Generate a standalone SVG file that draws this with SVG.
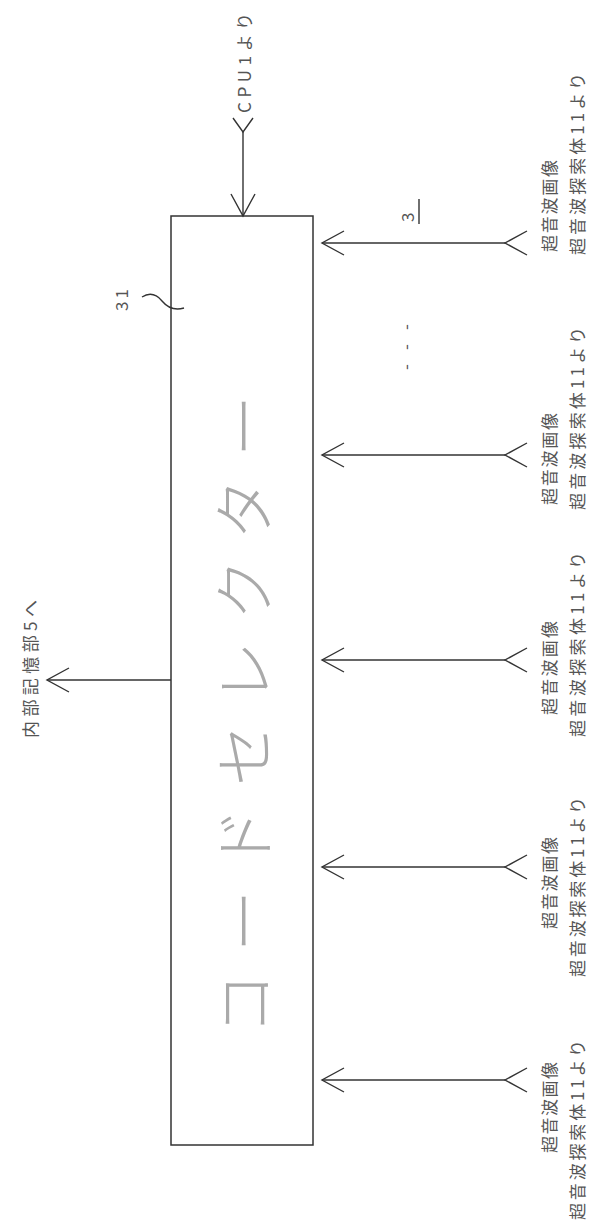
<svg xmlns="http://www.w3.org/2000/svg" width="598" height="1225" viewBox="0 0 598 1225">
<style>
.ln{fill:none;stroke:#333;stroke-width:1.4}
.box{fill:#fff;stroke:#333;stroke-width:1.5}
.t{font-family:"Noto Sans CJK JP","Liberation Sans",sans-serif;fill:#555;font-size:17px}
.big{font-family:"Noto Sans CJK JP",sans-serif;fill:#aaa;font-size:62px;font-weight:300}
</style>
<defs>
<marker id="ah" markerUnits="userSpaceOnUse" orient="auto" overflow="visible" refX="0" refY="0" markerWidth="1" markerHeight="1">
<path d="M-22,-12 L0,0 L-22,12" fill="none" stroke="#333" stroke-width="1.4"/>
</marker>
<marker id="fk" markerUnits="userSpaceOnUse" orient="auto" overflow="visible" refX="0" refY="0" markerWidth="1" markerHeight="1">
<path d="M-14,-10 L0,0 L-14,10" fill="none" stroke="#333" stroke-width="1.4"/>
</marker>
</defs>
<rect width="598" height="1225" fill="#fff"/>

<g id="selector">
<rect class="box" x="171" y="216" width="142" height="929"/>
<text class="big" transform="translate(268,1035) rotate(-90)" textLength="640" lengthAdjust="spacing">コードセレクター</text>
<text class="t" transform="translate(128,311) rotate(-90)" textLength="22" lengthAdjust="spacing">31</text>
<path class="ln" d="M142,297 C150,292 157,295 162,301 S174,311 184,308"/>
</g>

<g id="fig-label">
<text class="t" font-size="20" transform="translate(414,222) rotate(-90)">3</text>
<line class="ln" x1="419" y1="199" x2="419" y2="224"/>
</g>

<g id="dots">
<text class="t" font-size="20" transform="translate(412,370) rotate(-90)" textLength="46" lengthAdjust="spacing">---</text>
</g>

<g id="cpu">
<text class="t" transform="translate(251,113) rotate(-90)" textLength="100" lengthAdjust="spacing">CPU1より</text>
</g>

<g id="memory">
<text class="t" transform="translate(37,738) rotate(-90)" textLength="138" lengthAdjust="spacing">内部記憶部5へ</text>
</g>

<g id="probe1">
<text class="t" transform="translate(556,252) rotate(-90)" textLength="92" lengthAdjust="spacing">超音波画像</text>
<text class="t" transform="translate(584,255) rotate(-90)" textLength="182" lengthAdjust="spacing">超音波探索体11より</text>
</g>
<g id="probe2">
<text class="t" transform="translate(556,505) rotate(-90)" textLength="92" lengthAdjust="spacing">超音波画像</text>
<text class="t" transform="translate(584,510) rotate(-90)" textLength="183" lengthAdjust="spacing">超音波探索体11より</text>
</g>
<g id="probe3">
<text class="t" transform="translate(556,715) rotate(-90)" textLength="94" lengthAdjust="spacing">超音波画像</text>
<text class="t" transform="translate(584,737) rotate(-90)" textLength="185" lengthAdjust="spacing">超音波探索体11より</text>
</g>
<g id="probe4">
<text class="t" transform="translate(556,929) rotate(-90)" textLength="92" lengthAdjust="spacing">超音波画像</text>
<text class="t" transform="translate(584,977) rotate(-90)" textLength="180" lengthAdjust="spacing">超音波探索体11より</text>
</g>
<g id="probe5">
<text class="t" transform="translate(556,1153) rotate(-90)" textLength="91" lengthAdjust="spacing">超音波画像</text>
<text class="t" transform="translate(584,1220) rotate(-90)" textLength="180" lengthAdjust="spacing">超音波探索体11より</text>
</g>

<g id="connectors">
<path class="ln" d="M243,132 L243,216" marker-start="url(#fk)" marker-end="url(#ah)"/>
<path class="ln" d="M505,243 L322,243" marker-start="url(#ah)" marker-end="url(#ah)"/>
<path class="ln" d="M505,455 L322,455" marker-start="url(#ah)" marker-end="url(#ah)"/>
<path class="ln" d="M505,660 L322,660" marker-start="url(#ah)" marker-end="url(#ah)"/>
<path class="ln" d="M505,867 L322,867" marker-start="url(#ah)" marker-end="url(#ah)"/>
<path class="ln" d="M505,1080 L322,1080" marker-start="url(#ah)" marker-end="url(#ah)"/>
<path class="ln" d="M171,680 L47,680" marker-end="url(#ah)"/>
</g>
</svg>
